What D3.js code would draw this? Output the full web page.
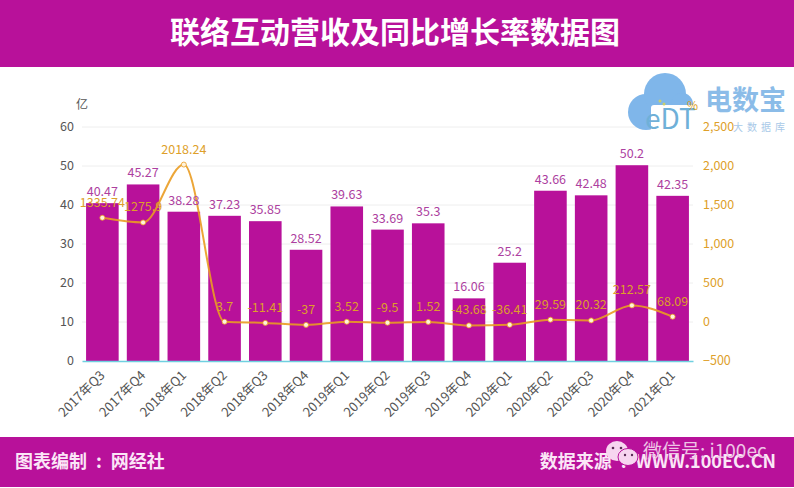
<!DOCTYPE html>
<html>
<head>
<meta charset="utf-8">
<script src="https://cdn.jsdelivr.net/npm/d3@7"></script>
<style>
  html, body { margin: 0; padding: 0; background: #fff; }
  svg { display: block; }
  text { font-family: "Noto Sans CJK SC", "Noto Sans", sans-serif; }
</style>
</head>
<body>
<div id="chart"></div>
<script>
var quarters = ["2017年Q3", "2017年Q4", "2018年Q1", "2018年Q2", "2018年Q3", "2018年Q4", "2019年Q1", "2019年Q2", "2019年Q3", "2019年Q4", "2020年Q1", "2020年Q2", "2020年Q3", "2020年Q4", "2021年Q1"];
var revenue = [40.47, 45.27, 38.28, 37.23, 35.85, 28.52, 39.63, 33.69, 35.3, 16.06, 25.2, 43.66, 42.48, 50.2, 42.35];
var growth = [1335.74, 1275.9, 2018.24, 3.7, -11.41, -37, 3.52, -9.5, 1.52, -43.68, -36.41, 29.59, 20.32, 212.57, 68.09];
var leftTicks = [0, 10, 20, 30, 40, 50, 60];
var rightTicks = [-500, 0, 500, 1000, 1500, 2000, 2500];

var svgWidth = 794;
var svgHeight = 488;
var purple = "#b8119a";
var gold = "#de9f2a";

var margin = { top: 127, right: 101, bottom: 127, left: 82 };
var width = svgWidth - margin.left - margin.right;
var height = svgHeight - margin.top - margin.bottom;

var svg = d3.select("#chart")
  .append("svg")
  .attr("width", svgWidth)
  .attr("height", svgHeight);

// header and footer bands
svg.append("rect").attr("width", svgWidth).attr("height", 67).attr("fill", purple);
svg.append("rect").attr("y", 437).attr("width", svgWidth).attr("height", 50).attr("fill", purple);

svg.append("text")
  .attr("x", 395)
  .attr("y", 43)
  .attr("text-anchor", "middle")
  .attr("fill", "#fff")
  .attr("font-size", 30)
  .attr("font-weight", 700)
  .text("联络互动营收及同比增长率数据图");

svg.append("text")
  .attr("x", 15)
  .attr("y", 468)
  .attr("fill", "#fbe6f7")
  .attr("font-size", 18)
  .attr("font-weight", 700)
  .text("图表编制\u2002:\u2002网经社");

svg.append("text")
  .attr("x", 776)
  .attr("y", 468)
  .attr("text-anchor", "end")
  .attr("fill", "#fbe6f7")
  .attr("font-size", 18)
  .attr("font-weight", 700)
  .text("数据来源\u2002:\u2002WWW.100EC.CN");

var chartGroup = svg.append("g")
  .attr("transform", `translate(${margin.left}, ${margin.top})`);

var xScale = d3.scaleBand()
  .domain(quarters)
  .range([0, width])
  .paddingInner(0.2)
  .paddingOuter(0.1);

var yLeft = d3.scaleLinear().domain([0, 60]).range([height, 0]);
var yRight = d3.scaleLinear().domain([-500, 2500]).range([height, 0]);

// grid
chartGroup.selectAll(".grid")
  .data(leftTicks.slice(1))
  .enter()
  .append("line")
  .attr("x1", 0)
  .attr("x2", width)
  .attr("y1", d => yLeft(d))
  .attr("y2", d => yLeft(d))
  .attr("stroke", "#eeeeee");

// axes
var leftAxis = d3.axisLeft(yLeft).tickValues(leftTicks).tickSize(0).tickPadding(8);
var rightAxis = d3.axisRight(yRight).tickValues(rightTicks).tickSize(0).tickPadding(10).tickFormat(d3.format(","));
var bottomAxis = d3.axisBottom(xScale).tickSize(0);

var leftG = chartGroup.append("g").call(leftAxis);
leftG.select(".domain").remove();
leftG.selectAll("text").attr("font-size", 12.5).attr("fill", "#555").attr("y", -1);

// bars
chartGroup.selectAll(".bar")
  .data(quarters)
  .enter()
  .append("rect")
  .attr("class", "bar")
  .attr("x", d => xScale(d))
  .attr("y", (d, i) => yLeft(revenue[i]))
  .attr("width", xScale.bandwidth())
  .attr("height", (d, i) => height - yLeft(revenue[i]))
  .attr("fill", purple);

var bottomG = chartGroup.append("g").attr("transform", `translate(0, ${height})`).call(bottomAxis);
bottomG.select(".domain").attr("stroke", "#6fd0e0").attr("stroke-width", 1.5);
bottomG.selectAll("text")
  .attr("font-size", 13)
  .attr("fill", "#555")
  .attr("text-anchor", "end")
  .attr("x", 0)
  .attr("y", 0)
  .attr("dy", "0.35em")
  .attr("transform", "translate(0, 12) rotate(-45)");

// growth line
var lineGen = d3.line()
  .x((d, i) => xScale(quarters[i]) + xScale.bandwidth() / 2)
  .y(d => yRight(d))
  .curve(d3.curveMonotoneX);

chartGroup.append("path")
  .datum(growth)
  .attr("d", lineGen)
  .attr("fill", "none")
  .attr("stroke", "#ea9c22")
  .attr("stroke-opacity", 0.9)
  .attr("stroke-width", 2);

chartGroup.selectAll(".dot")
  .data(growth)
  .enter()
  .append("circle")
  .attr("cx", (d, i) => xScale(quarters[i]) + xScale.bandwidth() / 2)
  .attr("cy", d => yRight(d))
  .attr("r", 2.5)
  .attr("fill", "#fff3dc")
  .attr("stroke", "#ea9c22")
  .attr("stroke-width", 0.8);

// value labels
chartGroup.selectAll(".barLabel")
  .data(revenue)
  .enter()
  .append("text")
  .attr("x", (d, i) => xScale(quarters[i]) + xScale.bandwidth() / 2)
  .attr("y", d => yLeft(d) - 7)
  .attr("text-anchor", "middle")
  .attr("font-size", 12.5)
  .attr("fill", "#ad3fa0")
  .text(d => d);

chartGroup.selectAll(".lineLabel")
  .data(growth)
  .enter()
  .append("text")
  .attr("x", (d, i) => xScale(quarters[i]) + xScale.bandwidth() / 2)
  .attr("y", d => yRight(d) - 11)
  .attr("text-anchor", "middle")
  .attr("font-size", 12.5)
  .attr("fill", gold)
  .text(d => d);

// logo watermark, sits under the right axis labels
var logo = svg.append("g").attr("fill", "#7fb6ea");
logo.append("circle").attr("cx", 646).attr("cy", 112).attr("r", 18);
logo.append("circle").attr("cx", 665).attr("cy", 94).attr("r", 21);
logo.append("circle").attr("cx", 682).attr("cy", 104).attr("r", 11);
logo.append("rect").attr("x", 651).attr("y", 105).attr("width", 44).attr("height", 28).attr("rx", 3).attr("fill", "#fff");
logo.append("text").attr("x", 645).attr("y", 129).attr("font-size", 28).attr("font-family", "Liberation Serif").attr("fill", "#6fb0d8").text("eDT");
logo.append("circle").attr("cx", 660).attr("cy", 101).attr("r", 1.5).attr("fill", "#c9cf6a");
logo.append("circle").attr("cx", 664).attr("cy", 104).attr("r", 1.5).attr("fill", "#c9cf6a");
logo.append("text").attr("x", 705).attr("y", 110).attr("font-size", 27).attr("font-weight", 700).attr("fill", "#8bbce8").text("电数宝");
logo.append("text").attr("x", 733).attr("y", 131).attr("font-size", 10).attr("letter-spacing", 4).attr("fill", "#a9c9e8").text("大数据库");

var rightG = chartGroup.append("g").attr("transform", `translate(${width}, 0)`).call(rightAxis);
rightG.select(".domain").remove();
rightG.selectAll("text").attr("font-size", 12.5).attr("fill", gold).attr("y", -1);

// unit labels
svg.append("text").attr("x", 76).attr("y", 109).attr("font-size", 12).attr("fill", "#555").text("亿");
svg.append("text").attr("x", 687).attr("y", 110).attr("font-size", 12).attr("fill", gold).text("%");

// wechat watermark
var wx = svg.append("g");
wx.append("ellipse").attr("cx", 617).attr("cy", 451).attr("rx", 11).attr("ry", 10).attr("fill", "#f7d5f0");
wx.append("ellipse").attr("cx", 628).attr("cy", 457).attr("rx", 10).attr("ry", 8.5).attr("fill", "#f7d5f0").attr("stroke", purple).attr("stroke-width", 1);
wx.append("circle").attr("cx", 613).attr("cy", 448).attr("r", 1.3).attr("fill", "#5a2a55");
wx.append("circle").attr("cx", 621).attr("cy", 448).attr("r", 1.3).attr("fill", "#5a2a55");
wx.append("circle").attr("cx", 625).attr("cy", 455).attr("r", 1.2).attr("fill", "#5a2a55");
wx.append("circle").attr("cx", 632).attr("cy", 455).attr("r", 1.2).attr("fill", "#5a2a55");
svg.append("text")
  .attr("x", 643)
  .attr("y", 458)
  .attr("font-size", 19)
  .attr("fill", "#eec4e6")
  .text("微信号: i100ec");
</script>
</body>
</html>
